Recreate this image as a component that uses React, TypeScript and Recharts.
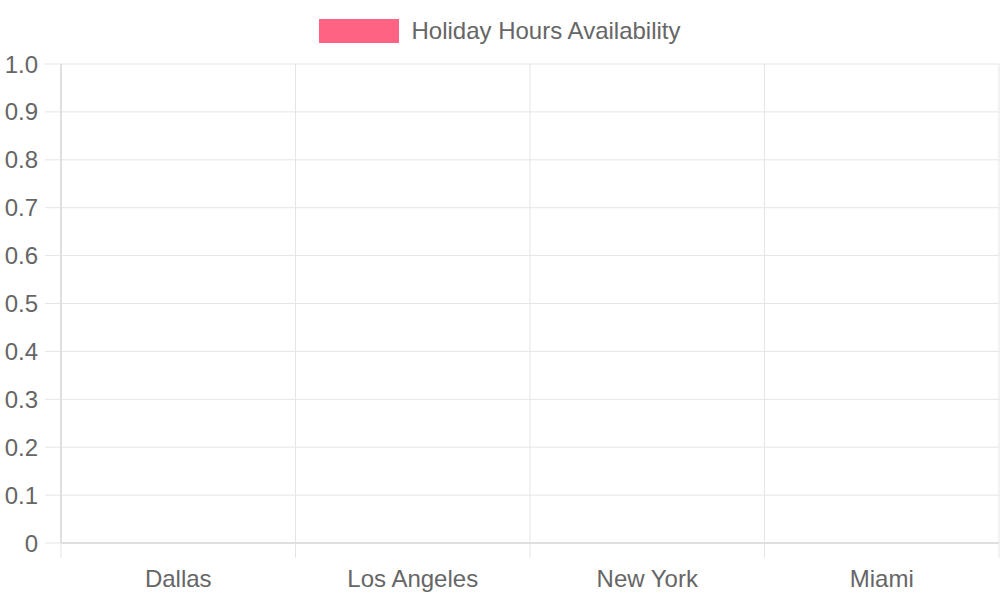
import { BarChart, Bar, XAxis, YAxis, CartesianGrid } from "recharts";

const CITIES = ["Dallas", "Los Angeles", "New York", "Miami"];
const AVAILABILITY = [0, 0, 0, 0];
const Y_TICKS = [0, 0.1, 0.2, 0.3, 0.4, 0.5, 0.6, 0.7, 0.8, 0.9, 1.0];
const CATEGORY_EDGES = [0, 1, 2, 3, 4];

const FONT = "'Liberation Sans', Arial, Helvetica, sans-serif";
const TEXT = "#666666";
const GRID = "#e5e5e5";
const AXIS = "#cccccc";
const PINK = "#ff6384";

const chartData = CITIES.map((city, i) => ({ city, idx: i, value: AVAILABILITY[i] }));

export default function App() {
  return (
    <div style={{ position: "fixed", top: 0, left: 0, width: 1000, height: 600, background: "#fff" }}>
      {/* Legend */}
      <div
        style={{
          position: "absolute",
          top: 0,
          left: 0,
          width: 1000,
          height: 62,
          display: "flex",
          justifyContent: "center",
          alignItems: "center",
        }}
      >
        <span style={{ display: "inline-block", width: 80, height: 24, background: PINK, marginRight: 12 }} />
        <span style={{ fontFamily: FONT, fontSize: 24, color: TEXT }}>Holiday Hours Availability</span>
      </div>

      <BarChart
        width={1000}
        height={600}
        data={chartData}
        margin={{ top: 64, right: 1, left: 0, bottom: 0 }}
      >
        <CartesianGrid
          stroke={GRID}
          verticalCoordinatesGenerator={({ offset }: any) =>
            CATEGORY_EDGES.map((e) => offset.left + (e * offset.width) / 4)
          }
        />
        {/* category boundaries: tick marks below the plot + the base line */}
        <XAxis
          xAxisId="a_edges"
          dataKey="idx"
          type="number"
          scale="linear"
          domain={[0, CITIES.length]}
          allowDataOverflow
          ticks={CATEGORY_EDGES}
          interval={0}
          tick={{ fontSize: 0 }}
          tickFormatter={() => ""}
          tickSize={15}
          tickLine={{ stroke: GRID }}
          axisLine={{ stroke: AXIS }}
          height={1}
        />
        <XAxis
          dataKey="city"
          xAxisId="b_cat"
          tickLine={false}
          axisLine={false}
          tick={{ fill: TEXT, fontSize: 24, fontFamily: FONT }}
          tickMargin={20}
          height={56}
          interval={0}
        />
        <YAxis
          domain={[0, 1]}
          ticks={Y_TICKS}
          interval={0}
          width={61}
          tickSize={16}
          tickMargin={7}
          tickLine={{ stroke: GRID }}
          axisLine={{ stroke: AXIS }}
          tick={{ fill: TEXT, fontSize: 24, fontFamily: FONT }}
          tickFormatter={(v: number) => (v === 0 ? "0" : v.toFixed(1))}
        />
        <Bar dataKey="value" xAxisId="b_cat" fill={PINK} isAnimationActive={false} />
      </BarChart>
    </div>
  );
}
